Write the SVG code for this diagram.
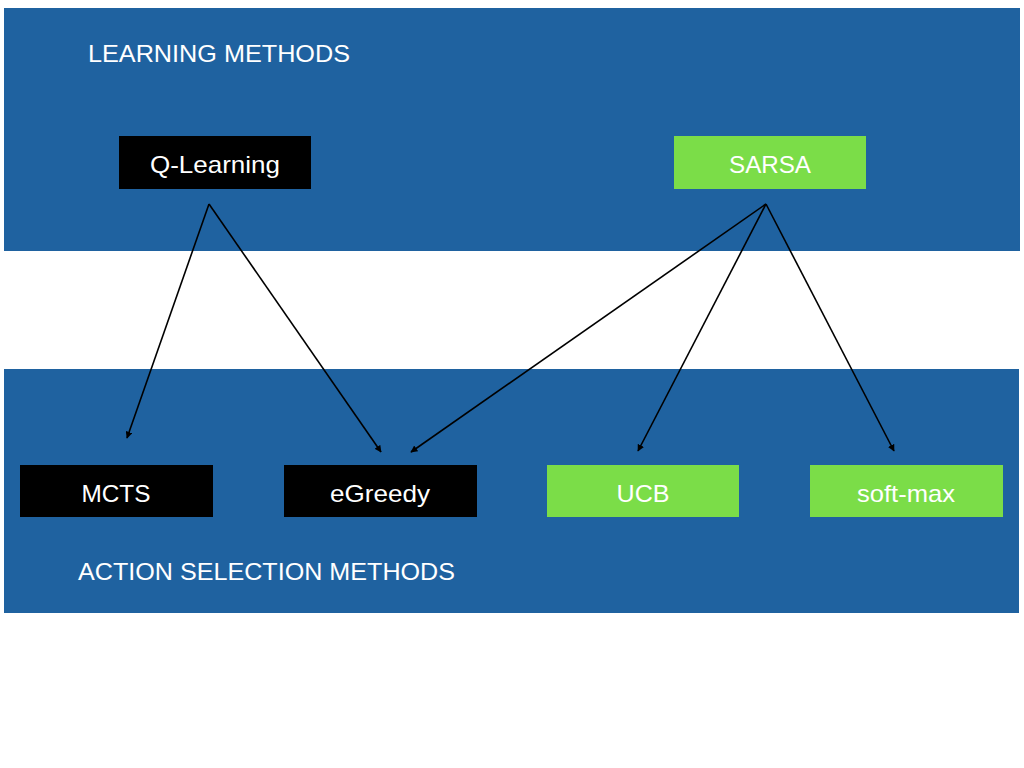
<svg xmlns="http://www.w3.org/2000/svg" width="1024" height="768" viewBox="0 0 1024 768">
<defs>
<style>
.band{fill:#1f62a0}
.dark{fill:#000000}
.green{fill:#7bdd48}
.lbl{font-family:"Liberation Sans",Arial,sans-serif;font-size:24px;fill:#ffffff;text-anchor:middle}
.title{font-family:"Liberation Sans",Arial,sans-serif;font-size:24px;fill:#ffffff}
.conn{stroke:#000000;stroke-width:1.6;fill:none;marker-end:url(#ah)}
</style>
<marker id="ah" viewBox="0 0 10 10" refX="9" refY="5" markerWidth="7" markerHeight="7" markerUnits="userSpaceOnUse" orient="auto">
<path d="M0,0 L10,5 L0,10 z" fill="#000000"/>
</marker>
</defs>
<rect width="1024" height="768" fill="#ffffff"/>
<g id="band-learning">
<rect class="band" x="4" y="8" width="1016" height="243"/>
<text class="title" x="88" y="62" textLength="262" lengthAdjust="spacingAndGlyphs">LEARNING METHODS</text>
</g>
<g id="band-action">
<rect class="band" x="4" y="369" width="1015" height="244"/>
<text class="title" x="78" y="580" textLength="377" lengthAdjust="spacingAndGlyphs">ACTION SELECTION METHODS</text>
</g>
<g id="q-learning">
<rect class="dark" x="119" y="136" width="192" height="53"/>
<text class="lbl" x="215" y="173" textLength="130" lengthAdjust="spacingAndGlyphs">Q-Learning</text>
</g>
<g id="sarsa">
<rect class="green" x="674" y="136" width="192" height="53"/>
<text class="lbl" x="770" y="173" textLength="82" lengthAdjust="spacingAndGlyphs">SARSA</text>
</g>
<g id="mcts">
<rect class="dark" x="20" y="465" width="193" height="52"/>
<text class="lbl" x="116" y="502" textLength="69" lengthAdjust="spacingAndGlyphs">MCTS</text>
</g>
<g id="egreedy">
<rect class="dark" x="284" y="465" width="193" height="52"/>
<text class="lbl" x="380" y="502" textLength="100" lengthAdjust="spacingAndGlyphs">eGreedy</text>
</g>
<g id="ucb">
<rect class="green" x="547" y="465" width="192" height="52"/>
<text class="lbl" x="643" y="502" textLength="53" lengthAdjust="spacingAndGlyphs">UCB</text>
</g>
<g id="soft-max">
<rect class="green" x="810" y="465" width="193" height="52"/>
<text class="lbl" x="906" y="502" textLength="98" lengthAdjust="spacingAndGlyphs">soft-max</text>
</g>
<g id="connectors">
<line class="conn" x1="209" y1="204" x2="127" y2="438"/>
<line class="conn" x1="209" y1="204" x2="381" y2="452"/>
<line class="conn" x1="766" y1="204" x2="411" y2="452"/>
<line class="conn" x1="766" y1="204" x2="638" y2="451"/>
<line class="conn" x1="766" y1="204" x2="894" y2="451"/>
</g>
</svg>
